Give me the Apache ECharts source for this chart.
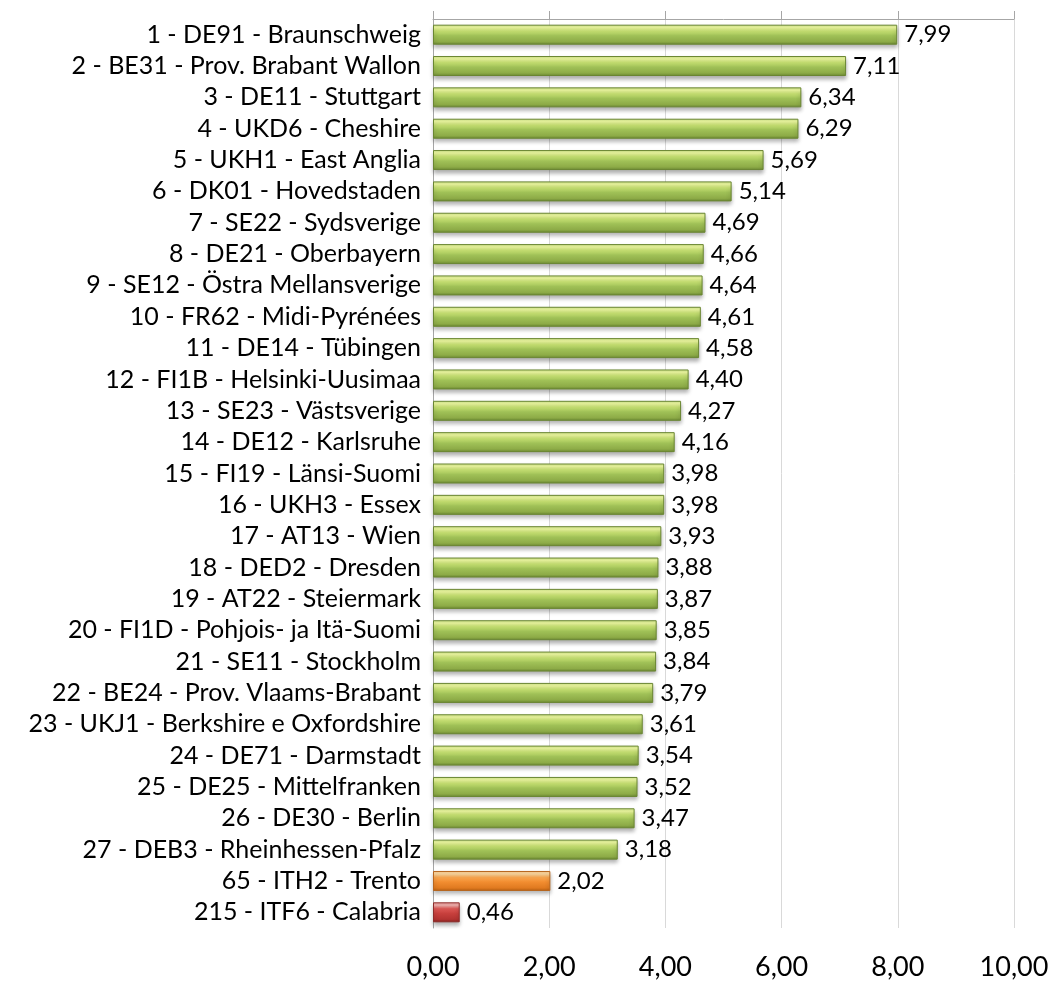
<!DOCTYPE html>
<html>
<head>
<meta charset="utf-8">
<script src="https://cdn.jsdelivr.net/npm/echarts@6/dist/echarts.min.js"></script>
<style>
  html, body { margin: 0; padding: 0; background: #fff; }
  #chart { width: 1054px; height: 985px; }
</style>
</head>
<body>
<div id="chart"></div>
<script>
var regions = [
  "1 - DE91 - Braunschweig",
  "2 - BE31 - Prov. Brabant Wallon",
  "3 - DE11 - Stuttgart",
  "4 - UKD6 - Cheshire",
  "5 - UKH1 - East Anglia",
  "6 - DK01 - Hovedstaden",
  "7 - SE22 - Sydsverige",
  "8 - DE21 - Oberbayern",
  "9 - SE12 - Östra Mellansverige",
  "10 - FR62 - Midi-Pyrénées",
  "11 - DE14 - Tübingen",
  "12 - FI1B - Helsinki-Uusimaa",
  "13 - SE23 - Västsverige",
  "14 - DE12 - Karlsruhe",
  "15 - FI19 - Länsi-Suomi",
  "16 - UKH3 - Essex",
  "17 - AT13 - Wien",
  "18 - DED2 - Dresden",
  "19 - AT22 - Steiermark",
  "20 - FI1D - Pohjois- ja Itä-Suomi",
  "21 - SE11 - Stockholm",
  "22 - BE24 - Prov. Vlaams-Brabant",
  "23 - UKJ1 - Berkshire e Oxfordshire",
  "24 - DE71 - Darmstadt",
  "25 - DE25 - Mittelfranken",
  "26 - DE30 - Berlin",
  "27 - DEB3 - Rheinhessen-Pfalz",
  "65 - ITH2 - Trento",
  "215 - ITF6 - Calabria"
];
var values = [7.99, 7.11, 6.34, 6.29, 5.69, 5.14, 4.69, 4.66, 4.64, 4.61, 4.58, 4.40, 4.27, 4.16,
  3.98, 3.98, 3.93, 3.88, 3.87, 3.85, 3.84, 3.79, 3.61, 3.54, 3.52, 3.47, 3.18, 2.02, 0.46];
// which colour group each bar belongs to
var groups = ["top","top","top","top","top","top","top","top","top","top","top","top","top","top",
  "top","top","top","top","top","top","top","top","top","top","top","top","top","mid","low"];

function grad(stops) {
  return new echarts.graphic.LinearGradient(0, 0, 0, 1, stops.map(function (c, i) {
    return { offset: [0, 0.15, 0.32, 0.55, 0.85, 1][i], color: c };
  }));
}
var styles = {
  top: { color: grad(['#cfe58c', '#eefaa0', '#c6e072', '#a0c157', '#8dab47', '#6c8933']), borderColor: '#6a8632' },
  mid: { color: grad(['#fbc98c', '#fdd9a0', '#f9a751', '#f28d30', '#e07a20', '#b75f14']), borderColor: '#b8661e' },
  low: { color: grad(['#e79a98', '#f2b0ad', '#dc5855', '#c8403d', '#b33331', '#85201f']), borderColor: '#8e2c2a' }
};

function fmt(v) { return v.toFixed(2).replace('.', ','); }

var chart = echarts.init(document.getElementById('chart'));
chart.setOption({
  animation: false,
  textStyle: { fontFamily: 'Lato, "Open Sans", sans-serif' },
  grid: { left: 433, right: 40, top: 19, bottom: 57 },
  xAxis: [{
    type: 'value', min: 0, max: 10, interval: 2, position: 'bottom',
    axisLine: { show: false }, axisTick: { show: false },
    axisLabel: { formatter: fmt, fontSize: 27, color: '#000', margin: 26 },
    splitLine: { lineStyle: { color: '#d9d9d9', width: 1 } }
  }, {
    type: 'value', min: 0, max: 10, interval: 2, position: 'top',
    axisLine: { show: true, lineStyle: { color: '#a6a6a6' } },
    axisTick: { show: true, length: 8, lineStyle: { color: '#a6a6a6' } },
    axisLabel: { show: false }, splitLine: { show: false }
  }],
  yAxis: {
    type: 'category', data: regions, inverse: true,
    axisLine: { lineStyle: { color: '#a6a6a6' } },
    axisTick: { length: 8, lineStyle: { color: '#a6a6a6' } },
    axisLabel: { interval: 0, hideOverlap: false, fontSize: 25, color: '#000', margin: 12 }
  },
  series: [{
    type: 'bar',
    barWidth: 20,
    data: values.map(function (v, i) {
      var s = styles[groups[i]];
      return {
        value: v,
        itemStyle: {
          color: s.color, borderColor: s.borderColor, borderWidth: 1,
          shadowColor: 'rgba(0,0,0,0.3)', shadowBlur: 4, shadowOffsetY: 3
        }
      };
    }),
    label: {
      show: true, position: 'right', distance: 7,
      fontSize: 24, color: '#000',
      formatter: function (p) { return fmt(p.value); }
    }
  }]
});
</script>
</body>
</html>
